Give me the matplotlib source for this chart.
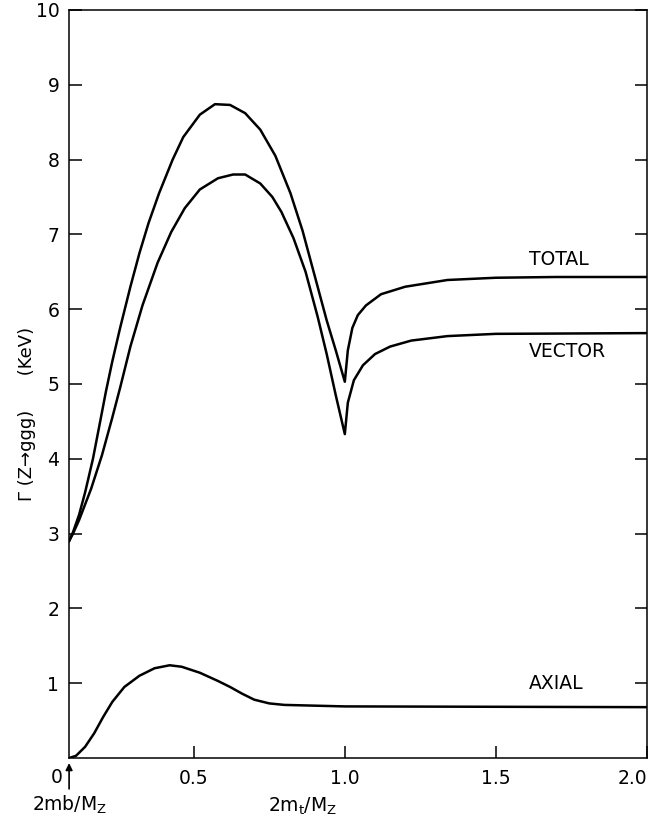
import matplotlib
matplotlib.use("Agg")
import matplotlib.pyplot as plt

# values (x = 2m_t/M_Z, y = width in KeV)
x_total = [0.087, 0.10, 0.12, 0.14, 0.166, 0.19, 0.209, 0.23, 0.256, 0.29, 0.32, 0.35, 0.385, 0.43,
           0.465, 0.52, 0.57, 0.62, 0.67, 0.72, 0.77, 0.82, 0.86, 0.90, 0.94, 0.97, 1.0, 1.01, 1.025,
           1.043, 1.07, 1.12, 1.20, 1.34, 1.50, 1.70, 2.0]
y_total = [2.9, 3.02, 3.25, 3.55, 4.0, 4.5, 4.9, 5.3, 5.75, 6.3, 6.75, 7.15, 7.55, 8.0,
           8.3, 8.6, 8.74, 8.73, 8.62, 8.4, 8.05, 7.55, 7.05, 6.45, 5.85, 5.45, 5.03, 5.45, 5.75,
           5.92, 6.05, 6.2, 6.3, 6.39, 6.42, 6.43, 6.43]

x_vector = [0.087, 0.10, 0.12, 0.16, 0.196, 0.23, 0.256, 0.29, 0.33, 0.38, 0.425, 0.47, 0.52, 0.58,
            0.63, 0.67, 0.72, 0.76, 0.79, 0.83, 0.87, 0.91, 0.94, 0.97, 1.0, 1.01, 1.03, 1.06, 1.10,
            1.15, 1.22, 1.34, 1.50, 2.0]
y_vector = [2.9, 3.0, 3.18, 3.6, 4.05, 4.55, 4.95, 5.5, 6.05, 6.62, 7.03, 7.35, 7.6, 7.75,
            7.8, 7.8, 7.68, 7.5, 7.3, 6.95, 6.5, 5.9, 5.4, 4.85, 4.33, 4.75, 5.05, 5.25, 5.4,
            5.5, 5.58, 5.64, 5.67, 5.68]

x_axial = [0.087, 0.11, 0.14, 0.17, 0.20, 0.23, 0.27, 0.32, 0.37, 0.42, 0.46, 0.52, 0.58, 0.62,
           0.66, 0.70, 0.75, 0.80, 0.90, 1.0, 2.0]
y_axial = [0.0, 0.03, 0.15, 0.33, 0.55, 0.75, 0.95, 1.1, 1.2, 1.24, 1.22, 1.14, 1.03, 0.95,
           0.86, 0.78, 0.73, 0.71, 0.70, 0.69, 0.68]

x_min = 0.087  # 2mb/Mz, where the axis starts
xticks = [0.5, 1.0, 1.5, 2.0]
xtick_labels = ["0.5", "1.0", "1.5", "2.0"]
yticks = [1, 2, 3, 4, 5, 6, 7, 8, 9, 10]

plt.rcParams['font.family'] = ['DejaVu Sans']
plt.rcParams['mathtext.default'] = 'regular'

fig = plt.figure(figsize=(6.58, 8.27), dpi=100)
ax = fig.add_axes([0.105, 0.0834, 0.878, 0.9046])

ax.plot(x_total, y_total, color="black", lw=1.8)
ax.plot(x_vector, y_vector, color="black", lw=1.8)
ax.plot(x_axial, y_axial, color="black", lw=1.8)

ax.set_xlim(x_min, 2.0)
ax.set_ylim(0, 10)
ax.set_xticks(xticks)
ax.set_xticklabels(xtick_labels)
ax.set_yticks(yticks)
ax.tick_params(direction="in", length=9, width=1.1, labelsize=13.5, right=True, pad=7)
ax.tick_params(axis="x", pad=8)
ax.get_xticklabels()[-1].set_horizontalalignment("right")
for s in ax.spines.values():
    s.set_linewidth(1.1)

# curve labels
ax.text(1.61, 6.66, "TOTAL", fontsize=13.5, va="center")
ax.text(1.61, 5.43, "VECTOR", fontsize=13.5, va="center")
ax.text(1.61, 1.0, "AXIAL", fontsize=13.5, va="center")

# bottom-left marker for 2mb/Mz
ax.text(x_min - 0.04, -0.26, "0", fontsize=13.5, ha="center", va="center")
ax.annotate("", xy=(x_min, -0.03), xytext=(x_min, -0.45),
            arrowprops=dict(arrowstyle="-|>", color="black", lw=1.2, mutation_scale=10),
            annotation_clip=False)
ax.text(x_min, -0.62, "2mb/M$_Z$", fontsize=13.5, ha="center", va="center")

ax.text(0.86, -0.65, "2m$_t$/M$_Z$", fontsize=13.5, ha="center", va="center")
fig.text(0.041, 0.5, "Γ (Z→ggg)      (KeV)", rotation=90, fontsize=13, ha="center", va="center")

fig.savefig("out.png", dpi=100)
